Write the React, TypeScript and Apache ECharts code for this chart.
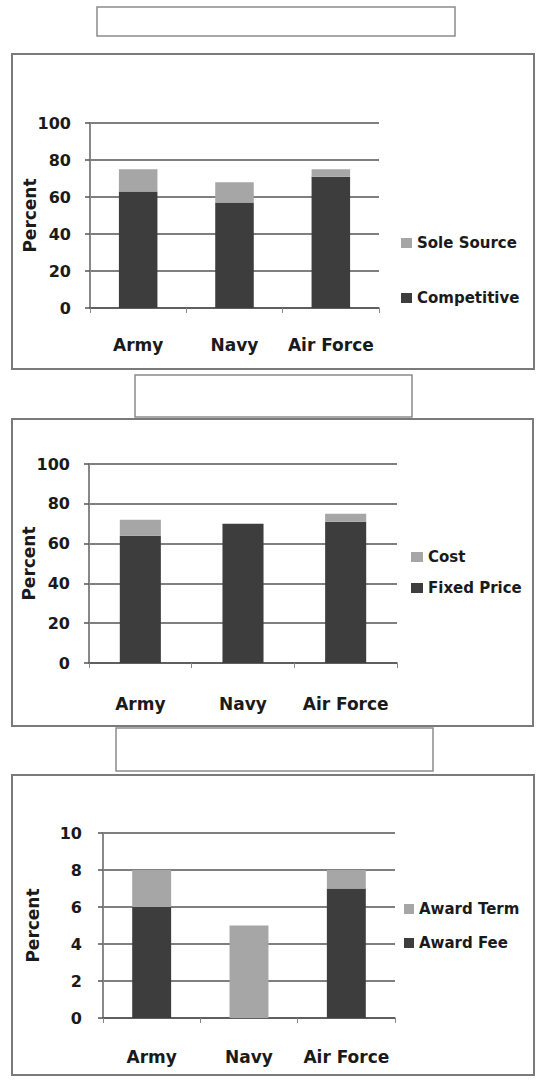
import React, { useEffect, useRef } from "react";
import * as echarts from "echarts";

const categories = ["Army", "Navy", "Air Force"];

const competitive = [63, 57, 71];
const soleSource = [12, 11, 4];

const fixedPrice = [64, 70, 71];
const cost = [8, 0, 4];

const awardFee = [6, 0, 7];
const awardTerm = [2, 5, 1];

const pctAxis1 = { min: 0, max: 100, interval: 20 };
const pctAxis2 = { min: 0, max: 100, interval: 20 };
const pctAxis3 = { min: 0, max: 10, interval: 2 };

const DARK = "#3d3d3d";
const LIGHT = "#a6a6a6";
const FONT = "DejaVu Sans";

type Panel = {
  grid: { left: number; top: number; width: number; height: number };
  axis: { min: number; max: number; interval: number };
  darkName: string;
  lightName: string;
  dark: number[];
  light: number[];
  labelMargin: number;
  xLabelMargin: number;
  nameGap: number;
  legend: { left: number; top: number; itemGap: number; itemWidth: number };
};

const panels: Panel[] = [
  {
    grid: { left: 90, top: 123, width: 289, height: 185 },
    axis: pctAxis1,
    darkName: "Competitive",
    lightName: "Sole Source",
    dark: competitive,
    light: soleSource,
    labelMargin: 19,
    xLabelMargin: 28,
    nameGap: 52,
    legend: { left: 401, top: 235, itemGap: 39, itemWidth: 11 },
  },
  {
    grid: { left: 89, top: 464, width: 308, height: 199 },
    axis: pctAxis2,
    darkName: "Fixed Price",
    lightName: "Cost",
    dark: fixedPrice,
    light: cost,
    labelMargin: 19,
    xLabelMargin: 32,
    nameGap: 52,
    legend: { left: 411, top: 549, itemGap: 15, itemWidth: 12 },
  },
  {
    grid: { left: 103, top: 833, width: 292, height: 185 },
    axis: pctAxis3,
    darkName: "Award Fee",
    lightName: "Award Term",
    dark: awardFee,
    light: awardTerm,
    labelMargin: 21,
    xLabelMargin: 30,
    nameGap: 62,
    legend: { left: 404, top: 901, itemGap: 18, itemWidth: 10 },
  },
];

const frames = [
  { x: 12, y: 54, w: 522, h: 315 },
  { x: 12, y: 419, w: 521, h: 307 },
  { x: 12, y: 775, w: 522, h: 300 },
];

const titleBoxes = [
  { x: 97, y: 7, w: 358, h: 29 },
  { x: 135, y: 375, w: 277, h: 42 },
  { x: 116, y: 728, w: 317, h: 43 },
];

export default function App() {
  const ref = useRef<HTMLDivElement>(null);

  useEffect(() => {
    if (!ref.current) return;
    const chart = echarts.init(ref.current, undefined, { renderer: "svg" });

    const grids = panels.map((p) => ({ ...p.grid, containLabel: false }));
    const xAxes = panels.map((p, i) => ({
      type: "category",
      gridIndex: i,
      data: categories,
      axisLine: { show: true, lineStyle: { color: "#555", width: 1.5 } },
      axisTick: { show: true, length: 5, lineStyle: { color: "#888" } },
      axisLabel: {
        interval: 0,
        margin: p.xLabelMargin,
        fontFamily: FONT,
        fontWeight: "bold",
        fontSize: 17,
        color: "#1a1a1a",
      },
      splitLine: { show: false },
    }));
    const yAxes = panels.map((p, i) => ({
      type: "value",
      gridIndex: i,
      min: p.axis.min,
      max: p.axis.max,
      interval: p.axis.interval,
      name: "Percent",
      nameLocation: "middle",
      nameRotate: 90,
      nameGap: p.nameGap,
      nameMoveOverlap: false,
      nameTextStyle: {
        fontFamily: FONT,
        fontWeight: "bold",
        fontSize: 17,
        color: "#1a1a1a",
      },
      axisLine: { show: true, lineStyle: { color: "#888", width: 2 } },
      axisTick: { show: true, length: 5, lineStyle: { color: "#555", width: 1.5 } },
      axisLabel: {
        margin: p.labelMargin,
        fontFamily: FONT,
        fontWeight: "bold",
        fontSize: 16,
        color: "#1a1a1a",
      },
      splitLine: { show: true, lineStyle: { color: "#555", width: 1.5 } },
    }));

    const series: any[] = [];
    panels.forEach((p, i) => {
      series.push({
        type: "bar",
        name: p.darkName,
        xAxisIndex: i,
        yAxisIndex: i,
        stack: "s" + i,
        barWidth: "40%",
        itemStyle: { color: DARK },
        data: p.dark,
      });
      series.push({
        type: "bar",
        name: p.lightName,
        xAxisIndex: i,
        yAxisIndex: i,
        stack: "s" + i,
        barWidth: "40%",
        itemStyle: { color: LIGHT },
        data: p.light,
      });
    });

    const legends = panels.map((p) => ({
      orient: "vertical",
      left: p.legend.left,
      top: p.legend.top,
      itemGap: p.legend.itemGap,
      itemWidth: p.legend.itemWidth,
      itemHeight: 10,
      icon: "rect",
      data: [p.lightName, p.darkName],
      textStyle: {
        fontFamily: FONT,
        fontWeight: "bold",
        fontSize: 15,
        lineHeight: 16,
        color: "#1a1a1a",
      },
      padding: 0,
    }));

    const graphics: any[] = [];
    frames.forEach((f) => {
      graphics.push({
        type: "rect",
        z: -10,
        shape: { x: f.x, y: f.y, width: f.w, height: f.h },
        style: { fill: "#fff", stroke: "#7a7a7a", lineWidth: 2 },
        silent: true,
      });
    });
    titleBoxes.forEach((b) => {
      graphics.push({
        type: "rect",
        z: -10,
        shape: { x: b.x, y: b.y, width: b.w, height: b.h },
        style: { fill: "#fff", stroke: "#8c8c8c", lineWidth: 1.5 },
        silent: true,
      });
    });

    chart.setOption({
      animation: false,
      backgroundColor: "#fff",
      grid: grids,
      xAxis: xAxes,
      yAxis: yAxes,
      legend: legends,
      series,
      graphic: graphics,
    });

    return () => chart.dispose();
  }, []);

  return (
    <div
      ref={ref}
      style={{ position: "absolute", left: 0, top: 0, width: 539, height: 1088 }}
    />
  );
}
